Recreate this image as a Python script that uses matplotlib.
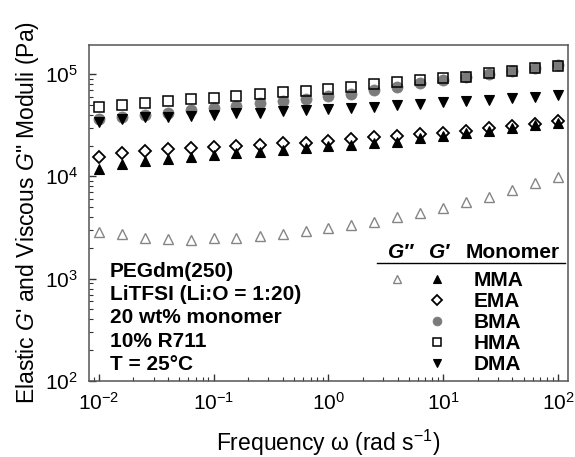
import numpy as np
import matplotlib
matplotlib.use("Agg")
import matplotlib.pyplot as plt
from matplotlib.lines import Line2D

plt.rcParams['font.family'] = ['Liberation Sans', 'DejaVu Sans']
plt.rcParams['mathtext.fontset'] = 'custom'
plt.rcParams['mathtext.rm'] = 'Liberation Sans'
plt.rcParams['mathtext.it'] = 'Liberation Sans:italic'
plt.rcParams['mathtext.bf'] = 'Liberation Sans:bold'
plt.rcParams['axes.unicode_minus'] = False

# Angular frequency (rad/s), five points per decade
freq = [0.01, 0.0158, 0.0251, 0.0398, 0.0631, 0.1, 0.158, 0.251, 0.398, 0.631,
        1.0, 1.58, 2.51, 3.98, 6.31, 10.0, 15.8, 25.1, 39.8, 63.1, 100.0]

# Storage modulus G' (Pa) for each monomer
g1_mma = [11700, 13100, 14100, 14800, 15600, 16200, 16800, 17400, 18100, 18800, 19800,
          20300, 21300, 21800, 23500, 24800, 26400, 27800, 29500, 31800, 33500]
g1_ema = [15400, 16800, 17700, 18400, 18800, 19200, 19800, 20400, 21100, 21400, 22300,
          23400, 24100, 25000, 25800, 26800, 27800, 29500, 31100, 32500, 35000]
g1_bma = [36400, 38300, 39800, 41400, 44600, 46900, 49100, 51800, 54600, 57500, 61100,
          64000, 70000, 75400, 81300, 87600, 93000, 100200, 107200, 114000, 122700]
g1_hma = [48000, 49900, 52500, 54600, 56700, 58800, 61100, 64000, 66400, 68900, 71500,
          75300, 79500, 83200, 87600, 91000, 94400, 101900, 107200, 114000, 120800]
g1_dma = [34300, 36200, 37800, 38400, 39200, 39800, 41400, 42000, 43900, 44600, 45600,
          46300, 48000, 49900, 51000, 53700, 54600, 55800, 58000, 60100, 62500]

# Loss modulus G'' (Pa), MMA
g2_mma = [2840, 2720, 2480, 2430, 2390, 2480, 2520, 2630, 2730, 2950, 3110,
          3350, 3610, 3980, 4420, 4880, 5580, 6340, 7370, 8560, 9940]

monomers = ["MMA", "EMA", "BMA", "HMA", "DMA"]
conditions = ["PEGdm(250)", "LiTFSI (Li:O = 1:20)", "20 wt% monomer", "10% R711", "T = 25\u00b0C"]

GRAY = "#7b7b7b"
styles = {
    "MMA": dict(marker="^", ms=7.6, mfc="black", mec="black", mew=0.8),
    "EMA": dict(marker="D", ms=6.2, mfc="none", mec="black", mew=1.3),
    "BMA": dict(marker="o", ms=8.0, mfc=GRAY, mec=GRAY, mew=0.5),
    "HMA": dict(marker="s", ms=7.2, mfc="none", mec="black", mew=1.1),
    "DMA": dict(marker="v", ms=7.6, mfc="black", mec="black", mew=0.8),
}
loss_style = dict(marker="^", ms=7.0, mfc="none", mec="#858585", mew=1.0)

fig = plt.figure(figsize=(5.75, 4.57), dpi=100)
ax = fig.add_axes([0.1548, 0.1663, 0.833, 0.7352])

ax.plot(freq, g2_mma, ls="none", **loss_style)
ax.plot(freq, g1_bma, ls="none", **styles["BMA"])
ax.plot(freq, g1_dma, ls="none", **styles["DMA"])
ax.plot(freq, g1_hma, ls="none", **styles["HMA"])
ax.plot(freq, g1_ema, ls="none", **styles["EMA"])
ax.plot(freq, g1_mma, ls="none", **styles["MMA"])

ax.set_xscale("log")
ax.set_yscale("log")
ax.set_xlim(0.0082, 122)
ax.set_ylim(100, 1.92e5)

for s in ax.spines.values():
    s.set_color("#555555")
    s.set_linewidth(1.1)
ax.tick_params(which="both", direction="in", top=False, right=False,
               colors="#333333", labelcolor="black", labelsize=15)
ax.tick_params(which="major", length=5, width=1.0, pad=8)
ax.tick_params(which="minor", length=3, width=0.8)

ax.set_xlabel("Frequency \u03c9 (rad s$^{-1}$)", fontsize=16.5, labelpad=10)
ax.set_ylabel("Elastic $\\it{G}$' and Viscous $\\it{G}$\" Moduli (Pa)", fontsize=16.5, labelpad=3)

# Sample conditions
cond_y = [0.3104, 0.2411, 0.1717, 0.1021, 0.0327]
for txt, yy in zip(conditions, cond_y):
    ax.text(0.0438, yy, txt, transform=ax.transAxes, fontsize=15, fontweight="bold",
            ha="left", va="baseline")

# Tabular key: G'' column, G' column, monomer name
hdr_y = 0.366
ax.text(0.651, hdr_y, "G\u2033", transform=ax.transAxes, fontsize=15, fontweight="bold",
        fontstyle="italic", ha="center", va="baseline")
ax.text(0.733, hdr_y, "G\u2032", transform=ax.transAxes, fontsize=15, fontweight="bold",
        fontstyle="italic", ha="center", va="baseline")
ax.text(0.787, hdr_y, "Monomer", transform=ax.transAxes, fontsize=15, fontweight="bold",
        ha="left", va="baseline")
ax.add_line(Line2D([0.601, 0.994], [0.352, 0.352], transform=ax.transAxes,
                   color="black", lw=1.0))

row_y = [0.3036, 0.2411, 0.1786, 0.1161, 0.0536]
ax.add_line(Line2D([0.643], [row_y[0]], transform=ax.transAxes, ls="none",
                   **dict(loss_style, ms=5.6)))
for name, yy in zip(monomers, row_y):
    st = dict(styles[name])
    st["ms"] = st["ms"] * 0.8
    ax.add_line(Line2D([0.7265], [yy], transform=ax.transAxes, ls="none", **st))
    ax.text(0.804, yy - 0.022, name, transform=ax.transAxes, fontsize=15,
            fontweight="bold", ha="left", va="baseline")

fig.savefig("out.png", dpi=100)
